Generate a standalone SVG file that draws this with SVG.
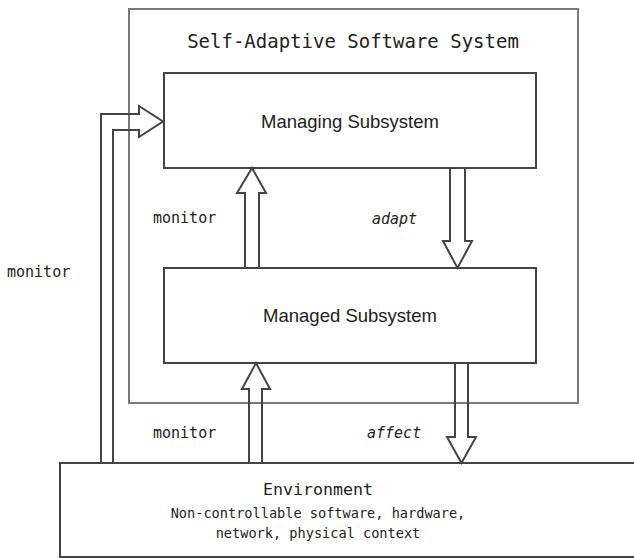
<svg xmlns="http://www.w3.org/2000/svg" width="634" height="558" viewBox="0 0 634 558">
  <defs>
    <style>
      .box { fill: #ffffff; stroke: #444444; stroke-width: 2; }
      .outer { fill: none; stroke: #7a7a7a; stroke-width: 2; }
      .arrow { fill: none; stroke: #444444; stroke-width: 2; stroke-linejoin: miter; }
      .mono { font-family: "DejaVu Sans Mono", "Liberation Mono", monospace; fill: #222222; }
      .sans { font-family: "Liberation Sans", Arial, sans-serif; fill: #222222; font-size: 18.5px; }
      .lbl { font-size: 15px; }
      .slant { font-style: italic; }
    </style>
  </defs>

  <rect width="634" height="558" fill="#ffffff"/>

  <!-- system boundary -->
  <g id="self-adaptive-system">
    <rect class="outer" x="129" y="9" width="449" height="394"/>
    <text class="mono" x="353" y="48" font-size="19" text-anchor="middle">Self-Adaptive Software System</text>
  </g>

  <g id="managing-subsystem">
    <rect class="box" x="164" y="73" width="372" height="95"/>
    <text class="sans" x="350" y="128" text-anchor="middle">Managing Subsystem</text>
  </g>

  <g id="managed-subsystem">
    <rect class="box" x="164" y="268" width="372" height="95"/>
    <text class="sans" x="350" y="322" text-anchor="middle">Managed Subsystem</text>
  </g>

  <g id="environment">
    <rect class="box" x="60" y="463" width="600" height="94"/>
    <text class="mono" x="318" y="495" font-size="16.6" text-anchor="middle">Environment</text>
    <text class="mono" x="318" y="518" font-size="13.6" text-anchor="middle">Non-controllable software, hardware,</text>
    <text class="mono" x="318" y="538" font-size="13.6" text-anchor="middle">network, physical context</text>
  </g>

  <!-- block arrows between the parts -->
  <g id="connectors">
    <!-- environment to managing subsystem -->
    <path class="arrow" d="M101,463 V114 H139 V106 L163,121.5 L139,137 V130 H113 V463"/>
    <!-- managed to managing -->
    <path class="arrow" d="M245,268 V193 H237 L252,168 L266,193 H259 V268"/>
    <!-- managing to managed -->
    <path class="arrow" d="M450,168 V241 H443 L457.5,268 L472,241 H465 V168"/>
    <!-- environment to managed -->
    <path class="arrow" d="M249,463 V389 H242 L256,363 L270,389 H262 V463"/>
    <!-- managed to environment -->
    <path class="arrow" d="M455,363 V437 H447 L461.5,463 L476,437 H468 V363"/>

    <text class="mono lbl" x="7" y="277">monitor</text>
    <text class="mono lbl" x="153" y="223">monitor</text>
    <text class="mono lbl slant" x="372" y="224">adapt</text>
    <text class="mono lbl" x="153" y="438">monitor</text>
    <text class="mono lbl slant" x="367" y="438">affect</text>
  </g>
</svg>
